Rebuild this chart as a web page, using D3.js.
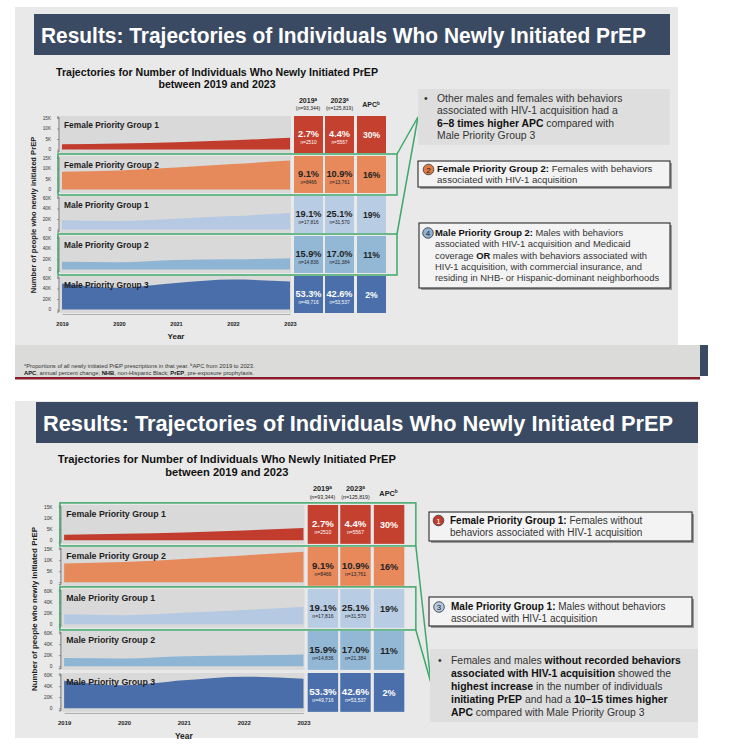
<!DOCTYPE html>
<html><head><meta charset="utf-8">
<script src="https://cdn.jsdelivr.net/npm/d3@7"></script>
<style>body{margin:0;background:#fff}svg{display:block}text{font-family:"Liberation Sans",Arial,sans-serif}</style>
</head><body><svg id="c" width="738" height="751"></svg>
<script>
// ---- data ----
const years = [2019, 2020, 2021, 2022, 2023];
const groupNames = ["Female Priority Group 1", "Female Priority Group 2", "Male Priority Group 1", "Male Priority Group 2", "Male Priority Group 3"];
const female1 = [2510, 2900, 3500, 4400, 5567];
const female2 = [8466, 9100, 10500, 12100, 13761];
const male1 = [17816, 16200, 20500, 25500, 31570];
const male2 = [14836, 14000, 18200, 19300, 21384];
const male3 = [49716, 41500, 50500, 57000, 53537];
const pct2019 = ["2.7%", "9.1%", "19.1%", "15.9%", "53.3%"];
const n2019 = ["n=2510", "n=8466", "n=17,816", "n=14,836", "n=49,716"];
const pct2023 = ["4.4%", "10.9%", "25.1%", "17.0%", "42.6%"];
const n2023 = ["n=5567", "n=13,761", "n=31,570", "n=21,384", "n=53,537"];
const apc = ["30%", "16%", "19%", "11%", "2%"];
const femaleTicks = [0, 5000, 10000, 15000];
const maleTicks = [0, 20000, 40000, 60000];
const tickLabel = {0: "0", 5000: "5K", 10000: "10K", 15000: "15K", 20000: "20K", 40000: "40K", 60000: "60K"};

const series = [female1, female2, male1, male2, male3];
const yMax = [15000, 15000, 60000, 60000, 60000];
const tickSets = [femaleTicks, femaleTicks, maleTicks, maleTicks, maleTicks];
const areaColors = ["#c23c2d", "#e68a5c", "#b5c9e2", "#8fb5d5", "#4a6ea9"];
const cellColors = ["#c4402f", "#e8895c", "#b8cce4", "#93b8d6", "#4a6faa"];
const cellText = ["#fff", "#222", "#1f1f1f", "#1f1f1f", "#fff"];
const GREEN = "#3fa86b";
const NAVY = "#3a4a62";

const svg = d3.select("#c");

function rich(g, x, y, lines, size, lh, color) {
  const t = g.append("text").attr("x", x).attr("y", y).attr("font-size", size).attr("fill", color || "#333");
  lines.forEach((segs, i) => {
    segs.forEach((s, j) => {
      const ts = t.append("tspan").text(s[0]).attr("font-weight", s[1] ? "bold" : "normal");
      if (s[1]) ts.attr("fill", "#111");
      if (j === 0) ts.attr("x", x).attr("dy", i === 0 ? 0 : lh);
    });
  });
  return t;
}

function drawChart(tx, ty, s) {
  const g = svg.append("g").attr("transform", `translate(${tx},${ty}) scale(${s})`);
  const x = d3.scaleLinear().domain([2019, 2023]).range([2, 230]);
  g.append("text").attr("x", 157).attr("y", -40).attr("text-anchor", "middle").attr("font-size", 10.6).attr("font-weight", "bold").attr("fill", "#111")
    .text("Trajectories for Number of Individuals Who Newly Initiated PrEP");
  g.append("text").attr("x", 157).attr("y", -28).attr("text-anchor", "middle").attr("font-size", 10.6).attr("font-weight", "bold").attr("fill", "#111")
    .text("between 2019 and 2023");
  const hdr = [["2019", "(n=93,344)", 248], ["2023", "(n=125,819)", 279.5]];
  hdr.forEach(h => {
    const t = g.append("text").attr("x", h[2]).attr("y", -13).attr("text-anchor", "middle").attr("font-size", 7).attr("font-weight", "bold").attr("fill", "#222");
    t.append("tspan").text(h[0]);
    t.append("tspan").text("a").attr("font-size", 4.5).attr("dy", -2.5);
    g.append("text").attr("x", h[2]).attr("y", -6).attr("text-anchor", "middle").attr("font-size", 5).attr("fill", "#222").text(h[1]);
  });
  const at = g.append("text").attr("x", 311).attr("y", -9).attr("text-anchor", "middle").attr("font-size", 7).attr("font-weight", "bold").attr("fill", "#222");
  at.append("tspan").text("APC");
  at.append("tspan").text("b").attr("font-size", 4.5).attr("dy", -2.5);

  groupNames.forEach((name, i) => {
    const top = i * 40, h = 37;
    const y = d3.scaleLinear().domain([0, yMax[i]]).range([top + 33.5, top + 2]);
    g.append("rect").attr("x", 0).attr("y", top).attr("width", 231).attr("height", h).attr("fill", "#d9d9d9");
    const area = d3.area().x((d, k) => x(years[k])).y0(y(0)).y1(d => y(d)).curve(d3.curveMonotoneX);
    g.append("path").datum(series[i]).attr("d", area).attr("fill", areaColors[i]);
    const ax = g.append("g").attr("transform", "translate(-1,0)")
      .call(d3.axisLeft(y).tickValues(tickSets[i]).tickFormat(d => tickLabel[d]).tickSize(2).tickPadding(6));
    ax.selectAll("text").attr("font-size", 4.6).attr("fill", "#333").attr("font-family", "Liberation Sans, Arial, sans-serif");
    ax.selectAll("line").attr("stroke", "#555").attr("stroke-width", 0.5);
    ax.select(".domain").attr("stroke", "#555").attr("stroke-width", 0.8).attr("d", `M-2,${top + 1}H0V${top + h - 1}H-2`);
    g.append("text").attr("x", 4).attr("y", top + 11.5).attr("font-size", 8.4).attr("font-weight", "bold").attr("fill", "#1e1e1e").text(name);
    const cells = [[234, pct2019[i], n2019[i]], [265, pct2023[i], n2023[i]]];
    cells.forEach(c => {
      g.append("rect").attr("x", c[0]).attr("y", top).attr("width", 29).attr("height", h).attr("fill", cellColors[i]);
      g.append("text").attr("x", c[0] + 14.5).attr("y", top + 20.5).attr("text-anchor", "middle").attr("font-size", 9.2).attr("font-weight", "bold").attr("fill", cellText[i]).text(c[1]);
      g.append("text").attr("x", c[0] + 14.5).attr("y", top + 27.5).attr("text-anchor", "middle").attr("font-size", 4.8).attr("fill", cellText[i]).text(c[2]);
    });
    g.append("rect").attr("x", 297).attr("y", top).attr("width", 29).attr("height", h).attr("fill", cellColors[i]);
    g.append("text").attr("x", 311.5).attr("y", top + 22).attr("text-anchor", "middle").attr("font-size", 8.6).attr("font-weight", "bold").attr("fill", cellText[i]).text(apc[i]);
  });
  const xa = g.append("g").attr("transform", "translate(0,198)")
    .call(d3.axisBottom(x).tickValues(years).tickFormat(d3.format("d")).tickSize(0).tickPadding(8));
  xa.select(".domain").attr("stroke", "#888").attr("stroke-width", 0.6);
  xa.selectAll("text").attr("font-size", 5.6).attr("font-weight", "bold").attr("fill", "#222").attr("font-family", "Liberation Sans, Arial, sans-serif");
  g.append("text").attr("x", 116).attr("y", 223).attr("text-anchor", "middle").attr("font-size", 8).attr("font-weight", "bold").attr("fill", "#222").text("Year");
  g.append("text").attr("transform", "translate(-24,99) rotate(-90)").attr("text-anchor", "middle").attr("font-size", 7.6).attr("font-weight", "bold").attr("fill", "#222")
    .text("Number of people who newly initiated PrEP");
  const toAbs = (lx, ly) => [tx + lx * s, ty + ly * s];
  return toAbs;
}

function greenBox(toAbs, row) {
  const a = toAbs(-2, row * 40 - 2), b = toAbs(337, row * 40 + 39);
  svg.append("rect").attr("x", a[0]).attr("y", a[1]).attr("width", b[0] - a[0]).attr("height", b[1] - a[1])
    .attr("fill", "none").attr("stroke", GREEN).attr("stroke-width", 1.5);
  return [a, b];
}

function calloutBox(x, y, w, h) {
  svg.append("rect").attr("x", x + 2).attr("y", y + 2).attr("width", w).attr("height", h).attr("fill", "#7a7a7a").attr("opacity", 0.7);
  svg.append("rect").attr("x", x).attr("y", y).attr("width", w).attr("height", h).attr("fill", "#f3f3f3").attr("stroke", "#2a2a2a").attr("stroke-width", 1.1);
}
function badge(cx, cy, num, fill, tc) {
  svg.append("circle").attr("cx", cx).attr("cy", cy).attr("r", 5.3).attr("fill", fill).attr("stroke", "#333").attr("stroke-width", 0.8);
  svg.append("text").attr("x", cx).attr("y", cy + 3).attr("text-anchor", "middle").attr("font-size", 8).attr("fill", tc).text(num);
}
function slideBase(bx, by, bw, bh, tbx, tby, tbw, tlen) {
  svg.append("rect").attr("x", bx).attr("y", by).attr("width", bw).attr("height", bh).attr("fill", "#e9e9e9");
  svg.append("rect").attr("x", tbx).attr("y", tby).attr("width", tbw).attr("height", 41).attr("fill", NAVY);
  svg.append("text").attr("x", tbx + 7).attr("y", tby + 29).attr("font-size", 22).attr("font-weight", "bold").attr("fill", "#fff")
    .attr("textLength", tlen).attr("lengthAdjust", "spacingAndGlyphs")
    .text("Results: Trajectories of Individuals Who Newly Initiated PrEP");
}

// ===== Slide 1 =====
slideBase(15, 7, 663, 338, 34, 14, 636, 605);
svg.append("rect").attr("x", 15).attr("y", 345).attr("width", 685).attr("height", 33).attr("fill", "#dbdcda");
svg.append("rect").attr("x", 700).attr("y", 345).attr("width", 8).attr("height", 31).attr("fill", NAVY);
svg.append("rect").attr("x", 15).attr("y", 377).attr("width", 685).attr("height", 2.5).attr("fill", "#8b1c2c");
{
  const f = svg.append("text").attr("x", 24).attr("y", 368).attr("font-size", 5.8).attr("fill", "#333");
  f.append("tspan").text("a").attr("font-size", 3.8).attr("dy", -1.6);
  f.append("tspan").text("Proportions of all newly initiated PrEP prescriptions in that year. ").attr("dy", 1.6);
  f.append("tspan").text("b").attr("font-size", 3.8).attr("dy", -1.6);
  f.append("tspan").text("APC from 2019 to 2023.").attr("dy", 1.6);
  rich(svg, 24, 375, [[["APC", true], [", annual percent change; ", false], ["NHB", true], [", non-Hispanic Black; ", false], ["PrEP", true], [", pre-exposure prophylaxis.", false]]], 5.8, 0, "#333");
}
const t1 = drawChart(60, 116, 1);
const g1a = greenBox(t1, 1), g1b = greenBox(t1, 3);
const conv1 = [418, 117];
[g1a, g1b].forEach(bx => {
  svg.append("line").attr("x1", bx[1][0]).attr("y1", bx[0][1]).attr("x2", conv1[0]).attr("y2", conv1[1]).attr("stroke", GREEN).attr("stroke-width", 1.5);
});
svg.append("rect").attr("x", 418).attr("y", 89).attr("width", 252).attr("height", 56).attr("fill", "#dedede");
svg.append("text").attr("x", 424).attr("y", 102).attr("font-size", 10.5).attr("fill", "#333").text("•");
rich(svg, 437, 102, [
  [["Other males and females with behaviors", false]],
  [["associated with HIV-1 acquisition had a", false]],
  [["6–8 times higher APC", true], [" compared with", false]],
  [["Male Priority Group 3", false]]
], 10.4, 12.3, "#333");
calloutBox(418, 161, 252, 26);
badge(428.5, 169.5, "2", "#e07b45", "#222");
rich(svg, 437, 172, [
  [["Female Priority Group 2:", true], [" Females with behaviors", false]],
  [["associated with HIV-1 acquisition", false]]
], 9.6, 11, "#333");
calloutBox(419, 223, 251, 65);
badge(428, 233, "4", "#8fb5d5", "#222");
rich(svg, 435, 236, [
  [["Male Priority Group 2:", true], [" Males with behaviors", false]],
  [["associated with HIV-1 acquisition and Medicaid", false]],
  [["coverage ", false], ["OR", true], [" males with behaviors associated with", false]],
  [["HIV-1 acquisition, with commercial insurance, and", false]],
  [["residing in NHB- or Hispanic-dominant neighborhoods", false]]
], 9.4, 11.3, "#333");

// ===== Slide 2 =====
slideBase(15, 401, 683, 337, 36, 402, 662, 630);
const t2 = drawChart(62, 505, 1.05);
const g2a = greenBox(t2, 0), g2b = greenBox(t2, 2);
const conv2 = [431, 683];
[g2a, g2b].forEach(bx => {
  svg.append("line").attr("x1", bx[1][0]).attr("y1", bx[1][1]).attr("x2", conv2[0]).attr("y2", conv2[1]).attr("stroke", GREEN).attr("stroke-width", 1.5);
});
calloutBox(429, 512, 263, 29);
badge(438.5, 520.5, "1", "#c23c2d", "#fff");
rich(svg, 450, 523.5, [
  [["Female Priority Group 1:", true], [" Females without", false]],
  [["behaviors associated with HIV-1 acquisition", false]]
], 10, 12, "#333");
calloutBox(429, 597, 263, 29);
badge(439, 607, "3", "#b5c9e2", "#222");
rich(svg, 451, 609.5, [
  [["Male Priority Group 1:", true], [" Males without behaviors", false]],
  [["associated with HIV-1 acquisition", false]]
], 10, 12, "#333");
svg.append("rect").attr("x", 430).attr("y", 649).attr("width", 268).attr("height", 73).attr("fill", "#dedede");
svg.append("text").attr("x", 438).attr("y", 664).attr("font-size", 10.5).attr("fill", "#333").text("•");
rich(svg, 451, 664, [
  [["Females and males ", false], ["without recorded behaviors", true]],
  [["associated with HIV-1 acquisition", true], [" showed the", false]],
  [["highest increase", true], [" in the number of individuals", false]],
  [["initiating PrEP", true], [" and had a ", false], ["10–15 times higher", true]],
  [["APC", true], [" compared with Male Priority Group 3", false]]
], 10.4, 13, "#333");
</script></body></html>
